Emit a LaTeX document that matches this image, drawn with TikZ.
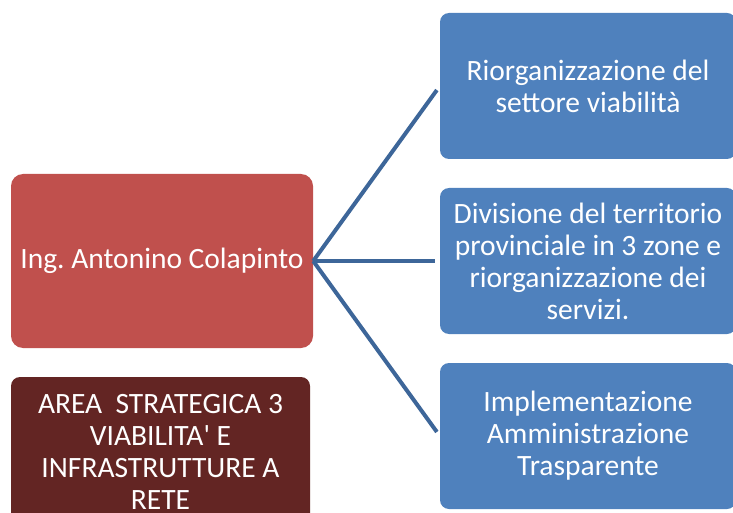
\documentclass[tikz,border=0pt]{standalone}
\usepackage{fontspec}
\setmainfont{Carlito}[Ligatures=TeXOff]
\frenchspacing
\definecolor{leadred}{HTML}{C0504D}
\definecolor{darkred}{HTML}{632523}
\definecolor{boxblue}{HTML}{4F81BD}
\definecolor{linkblue}{HTML}{3D6699}
\begin{document}
\begin{tikzpicture}[x=1pt,y=-1pt,
  box/.style={rounded corners=9pt, text=white, align=center, inner sep=0pt,
    font=\fontsize{29.5}{32}\selectfont},
  bluebox/.style={box, fill=boxblue, minimum width=296pt, minimum height=146pt},
  conn/.style={draw=linkblue, line width=4pt, shorten >=5pt}]
\useasboundingbox (0,0) rectangle (733,513);
\clip (0,0) rectangle (733,513);
\node[box, fill=leadred, minimum width=302pt, minimum height=174pt, rounded corners=12pt] (lead) at (162,261) {Ing. Antonino Colapinto};
\node[box, fill=darkred, minimum width=299pt, minimum height=150pt] (area) at (160.5,452) {AREA\ \ STRATEGICA 3\\VIABILITA' E\\INFRASTRUTTURE A\\RETE};
\node[bluebox] (b1) at (588,86) {Riorganizzazione del\\settore viabilità};
\node[bluebox] (b2) at (588,261) {Divisione del territorio\\provinciale in 3 zone e\\riorganizzazione dei\\servizi.};
\node[bluebox] (b3) at (588,436) {Implementazione\\Amministrazione\\Trasparente};
\draw[conn] (lead.east) -- (b1.west);
\draw[conn] (lead.east) -- (b2.west);
\draw[conn] (lead.east) -- (b3.west);
\end{tikzpicture}
\end{document}
